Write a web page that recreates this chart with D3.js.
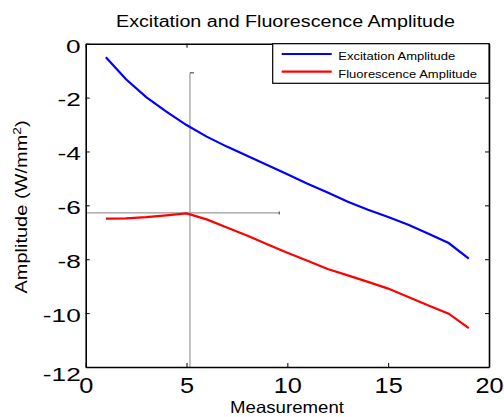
<!DOCTYPE html>
<html><head><meta charset="utf-8">
<script src="https://cdn.jsdelivr.net/npm/d3@7"></script>
<style>html,body{margin:0;padding:0;background:#fff;}svg{display:block;}text{font-family:Arial,"Liberation Sans",sans-serif;fill:#000;}</style>
</head><body><svg id="c" width="504" height="417"></svg>
<script>
const measurement = [1,2,3,4,5,6,7,8,9,10,11,12,13,14,15,16,17,18,19];
const excitation = [-0.5,-1.32,-1.98,-2.52,-3.02,-3.45,-3.82,-4.16,-4.5,-4.85,-5.2,-5.52,-5.87,-6.16,-6.43,-6.72,-7.05,-7.4,-7.98];
const fluorescence = [-6.49,-6.48,-6.44,-6.37,-6.3,-6.52,-6.82,-7.12,-7.44,-7.76,-8.06,-8.36,-8.6,-8.84,-9.09,-9.4,-9.72,-10.02,-10.56];
const xTicks = [0,5,10,15,20];
const yTicks = [0,-2,-4,-6,-8,-10,-12];
const seriesNames = ["Excitation Amplitude","Fluorescence Amplitude"];
const seriesColors = ["#0000ff","#ff0000"];
const cursorX = 5.17, cursorY = -6.28, cursorTop = -1.08, cursorRight = 9.6;

const svg = d3.select("#c");
const L=85.7, R=489, T=43.7, B=367;
const x = d3.scaleLinear().domain([0,20]).range([L,R]);
const y = d3.scaleLinear().domain([-12,0]).range([B,T]);
const fmt = d => String(d);

// crosshair
const g0 = svg.append("g").attr("stroke","#999").attr("stroke-width",1.2).attr("fill","none");
g0.append("line").attr("x1",x(cursorX)).attr("x2",x(cursorX)).attr("y1",y(cursorTop)).attr("y2",B);
g0.append("line").attr("x1",x(cursorX)).attr("x2",x(cursorX)+4).attr("y1",y(cursorTop)).attr("y2",y(cursorTop)).attr("stroke","#555");
g0.append("line").attr("x1",L).attr("x2",x(cursorRight)).attr("y1",y(cursorY)).attr("y2",y(cursorY));
g0.append("line").attr("x1",x(cursorRight)).attr("x2",x(cursorRight)).attr("y1",y(cursorY)-1.5).attr("y2",y(cursorY)+1.5).attr("stroke","#555");

// lines
const line = d3.line().x((d,i)=>x(measurement[i])).y(d=>y(d));
[excitation,fluorescence].forEach((s,k)=>{
  svg.append("path").datum(s).attr("d",line).attr("fill","none").attr("stroke",seriesColors[k]).attr("stroke-width",2.2);
});

// axes
function styleAxis(g){ g.selectAll("path").attr("stroke","#000").attr("stroke-width",1.6); g.selectAll("line").attr("stroke","#000").attr("stroke-width",1); }
const xb = svg.append("g").attr("transform",`translate(0,${B})`).call(d3.axisBottom(x).tickValues(xTicks).tickSizeInner(-4).tickSizeOuter(0).tickFormat(fmt));
styleAxis(xb);
xb.selectAll("text").attr("font-size",22).attr("y",25.7).attr("dy",null).attr("x",0).attr("transform","scale(1.15,1)");
const yl = svg.append("g").attr("transform",`translate(${L},0)`).call(d3.axisLeft(y).tickValues(yTicks).tickSizeInner(-4).tickSizeOuter(0).tickFormat(fmt));
styleAxis(yl);
yl.selectAll("text").attr("font-size",19).attr("x",-5/1.38).attr("dy",null).attr("y",d=> d===-12 ? 13.5 : 8.3).attr("transform","scale(1.38,1)");
const xt = svg.append("g").attr("transform",`translate(0,${T})`).call(d3.axisTop(x).tickValues(xTicks).tickSizeInner(-4).tickSizeOuter(0).tickFormat(""));
styleAxis(xt);
const yr = svg.append("g").attr("transform",`translate(${R},0)`).call(d3.axisRight(y).tickValues(yTicks).tickSizeInner(-4).tickSizeOuter(0).tickFormat(""));
styleAxis(yr);

// title
svg.append("text").attr("transform","translate(285.5,26.7) scale(1.23,1)").attr("text-anchor","middle").attr("font-size",16).text("Excitation and Fluorescence Amplitude");
// x label
svg.append("text").attr("transform","translate(287,413) scale(1.13,1)").attr("text-anchor","middle").attr("font-size",16.5).text("Measurement");
// y label
const ylab = svg.append("text").attr("transform","translate(27,207) rotate(-90) scale(1.25,1)").attr("text-anchor","middle").attr("font-size",16);
ylab.append("tspan").text("Amplitude (W/mm");
ylab.append("tspan").attr("font-size",11).attr("dy",-6).text("2");
ylab.append("tspan").attr("dy",6).text(")");

// legend
const lg = svg.append("g");
lg.append("rect").attr("x",272.7).attr("y",T).attr("width",R-272.7).attr("height",83.3-T).attr("fill","#fff").attr("stroke","#000").attr("stroke-width",1.2);
seriesNames.forEach((n,k)=>{
  const yy = [54,71.7][k];
  lg.append("line").attr("x1",281.7).attr("x2",331.7).attr("y1",yy).attr("y2",yy).attr("stroke",seriesColors[k]).attr("stroke-width",2.2);
  lg.append("text").attr("transform",`translate(338.3,${yy+6}) scale(1.13,1)`).attr("font-size",11.5).text(n);
});
</script></body></html>
